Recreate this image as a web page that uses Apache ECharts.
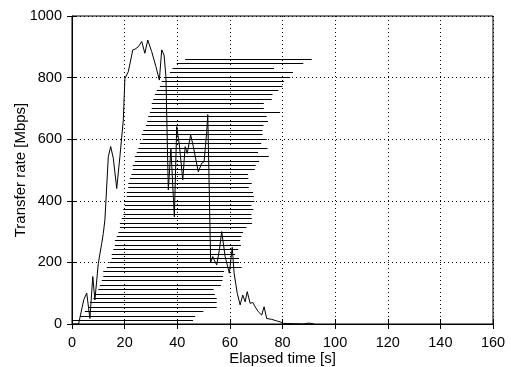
<!DOCTYPE html>
<html>
<head>
<meta charset="utf-8">
<script src="https://cdn.jsdelivr.net/npm/echarts@6/dist/echarts.min.js"></script>
<style>
  html, body { margin: 0; padding: 0; background: #fff; }
  #chart { width: 511px; height: 367px; }
</style>
</head>
<body>
<div id="chart"></div>
<script>
// Per-flow transfers: rate level [Mbps], start and end time [s]
const flowRate = [12, 26, 41, 55, 70, 84, 98, 113, 127, 141, 156, 170, 184, 199, 213, 228, 242, 256, 271, 285,
  299, 314, 328, 343, 357, 371, 386, 400, 414, 429, 443, 457, 472, 486, 501, 515, 529, 544, 558, 572,
  587, 601, 615, 630, 644, 658, 673, 687, 701, 716, 730, 745, 759, 773, 788, 802, 816, 831, 845, 860];
const flowStart = [0.0, 3.0, 4.9, 6.2, 6.8, 8.1, 8.7, 10.0, 10.6, 11.3, 11.9, 11.9, 13.2, 14.2, 15.1, 15.1, 15.7, 16.3, 16.3, 17.0,
  17.6, 18.2, 18.2, 18.9, 19.5, 19.5, 20.1, 20.1, 20.8, 20.8, 21.4, 21.4, 22.0, 22.6, 23.1, 23.1, 23.9, 23.9, 24.6, 25.2,
  25.8, 26.9, 26.5, 27.1, 28.1, 28.6, 29.0, 29.6, 30.3, 30.3, 30.9, 31.5, 32.2, 33.4, 34.1, 35.3, 37.2, 38.2, 39.8, 43.0];
const flowEnd = [46.0, 46.8, 49.9, 55.0, 55.0, 55.0, 54.3, 53.8, 56.6, 57.2, 57.4, 57.8, 64.5, 63.5, 63.5, 62.0, 63.2, 64.2, 63.9, 64.4,
  65.0, 66.3, 68.4, 68.3, 68.2, 68.9, 68.2, 69.3, 69.1, 68.8, 67.2, 68.3, 67.0, 66.9, 69.5, 69.8, 71.1, 74.8, 70.7, 74.3,
  71.9, 74.0, 72.4, 72.4, 72.8, 74.5, 74.0, 79.1, 72.9, 72.9, 75.9, 76.2, 78.4, 80.0, 80.6, 82.9, 84.0, 76.8, 87.9, 91.1];

// Aggregate transfer rate over time
const aggTime = [0, 2.5, 4.5, 5.6, 6.8, 7.9, 8.7, 10.0, 11.3, 11.9, 12.5, 13.8, 14.7, 15.7, 17.0, 18.2, 19.5, 20.1, 21.4, 22.0,
  23.1, 23.9, 25.2, 26.5, 27.7, 28.8, 30.3, 31.9, 33.2, 34.1, 35.0, 35.7, 36.6, 37.6, 38.9, 39.8, 40.8, 42.1, 43.0, 43.8,
  45.1, 46.1, 48.0, 49.3, 50.2, 51.2, 51.6, 52.7, 53.5, 54.2, 55.0, 56.0, 56.9, 58.2, 59.8, 60.9, 61.6, 62.8, 63.9, 64.9,
  65.8, 66.6, 67.7, 68.7, 69.6, 70.8, 72.1, 73.0, 74.0, 75.9, 77.8, 79.1, 80.3, 84.0, 88.0, 90.0, 92.0];
const aggRate = [0, 0, 80, 100, 18, 154, 78, 197, 262, 294, 338, 543, 576, 538, 440, 543, 662, 797, 819, 825,
  890, 892, 900, 917, 879, 922, 884, 836, 792, 890, 873, 803, 435, 570, 348, 641, 581, 468, 576, 554,
  614, 576, 494, 522, 527, 624, 680, 200, 219, 205, 192, 240, 300, 219, 165, 249, 165, 100, 62, 94,
  72, 105, 67, 70, 56, 40, 29, 56, 18, 15, 10, 7, 2, 1, 0, 3, 0];

// Axis ticks
const xTicks = [0, 20, 40, 60, 80, 100, 120, 140, 160];
const yTicks = [0, 200, 400, 600, 800, 1000];

const flowSegments = flowRate.map((r, i) => ({ coords: [[flowStart[i], r], [flowEnd[i], r]] }));
const aggData = aggTime.map((t, i) => [t, aggRate[i]]);

const font = 'Liberation Sans, Arial, Helvetica, sans-serif';
const gridLine = { show: true, lineStyle: { color: '#000', type: [1, 3], width: 1 } };
const plain = v => String(v);

const chart = echarts.init(document.getElementById('chart'), null, { renderer: 'canvas' });
chart.setOption({
  animation: false,
  backgroundColor: '#fff',
  grid: {
    left: 72, right: 18, top: 16, bottom: 43,
    outerBoundsMode: 'none', containLabel: false,
    show: true, borderColor: '#000', borderWidth: 1
  },
  xAxis: [{
    type: 'value', min: xTicks[0], max: xTicks[xTicks.length - 1], interval: 20,
    name: 'Elapsed time [s]', nameLocation: 'middle', nameGap: 27, nameMoveOverlap: false,
    nameTextStyle: { color: '#000', fontFamily: font, fontSize: 15 },
    axisLine: { show: true, lineStyle: { color: '#000', width: 1 } },
    axisTick: { show: true, inside: true, length: 5, lineStyle: { color: '#000' } },
    axisLabel: { color: '#000', fontFamily: font, fontSize: 14.5, margin: 11, formatter: plain },
    splitLine: gridLine
  }, {
    type: 'value', position: 'top', min: xTicks[0], max: xTicks[xTicks.length - 1], interval: 20,
    axisLine: { show: false },
    axisTick: { show: true, inside: true, length: 5, lineStyle: { color: '#000' } },
    axisLabel: { show: false }, splitLine: { show: false }
  }],
  yAxis: [{
    type: 'value', min: yTicks[0], max: yTicks[yTicks.length - 1], interval: 200,
    name: 'Transfer rate [Mbps]', nameLocation: 'middle', nameGap: 44, nameMoveOverlap: false,
    nameTextStyle: { color: '#000', fontFamily: font, fontSize: 15 },
    axisLine: { show: true, lineStyle: { color: '#000', width: 1 } },
    axisTick: { show: true, inside: true, length: 5, lineStyle: { color: '#000' } },
    axisLabel: { color: '#000', fontFamily: font, fontSize: 14.5, margin: 10, formatter: plain },
    splitLine: gridLine
  }, {
    type: 'value', position: 'right', min: yTicks[0], max: yTicks[yTicks.length - 1], interval: 200,
    axisLine: { show: false },
    axisTick: { show: true, inside: true, length: 5, lineStyle: { color: '#000' } },
    axisLabel: { show: false }, splitLine: { show: false }
  }],
  series: [{
    type: 'lines',
    coordinateSystem: 'cartesian2d',
    xAxisIndex: 0, yAxisIndex: 0,
    polyline: false,
    silent: true,
    lineStyle: { color: '#000', width: 1, opacity: 1 },
    data: flowSegments,
    z: 3
  }, {
    type: 'line',
    xAxisIndex: 0, yAxisIndex: 0,
    data: aggData,
    showSymbol: false,
    symbol: 'none',
    lineStyle: { color: '#000', width: 1 },
    z: 4
  }]
});
</script>
</body>
</html>
